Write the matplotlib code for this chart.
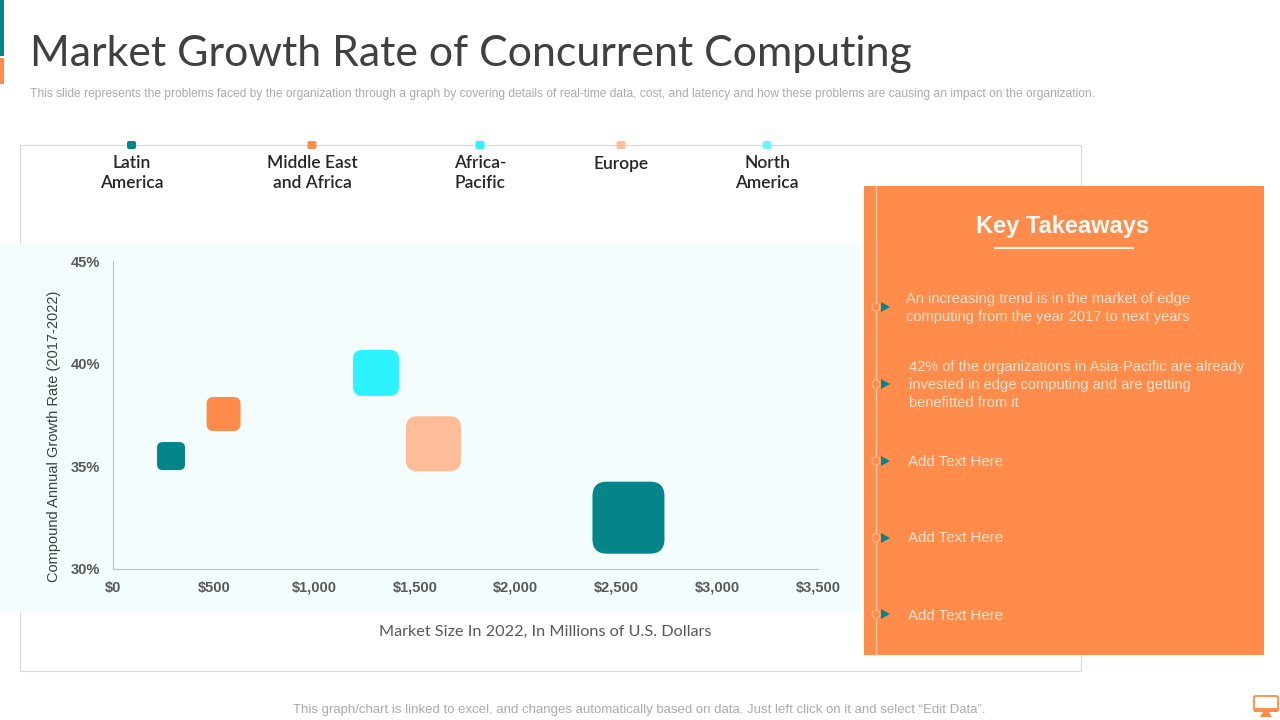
import matplotlib
matplotlib.use("Agg")
import matplotlib.pyplot as plt
from matplotlib.markers import MarkerStyle
from matplotlib.patches import BoxStyle, FancyBboxPatch, Polygon, Rectangle, Circle

regions = ["Latin\nAmerica", "Middle East\nand Africa", "Africa-\nPacific", "Europe", "North\nAmerica"]
legend_colors = ["#03858A", "#FF8C4A", "#2CF3FF", "#FFBC98", "#6FF4FC"]

market_size = [288, 549, 1306, 1591, 2559]
growth_rate = [35.5, 37.55, 39.55, 36.1, 32.5]
bubble_size = [28, 34, 46, 55, 72]
bubble_colors = ["#03858A", "#FF8C4A", "#2CF3FF", "#FFBC98", "#03858A"]

x_ticks = [0, 500, 1000, 1500, 2000, 2500, 3000, 3500]
y_ticks = [30, 35, 40, 45]

takeaways = [
    "An increasing trend is in the market of edge\ncomputing from the year 2017 to next years",
    "42% of the organizations in Asia-Pacific are already\ninvested in edge computing and are getting\nbenefitted from it",
    "Add Text Here",
    "Add Text Here",
    "Add Text Here",
]

ORANGE = "#FF8C4A"
TEAL = "#03858A"
W, H = 1280, 720

fig = plt.figure(figsize=(12.8, 7.2), dpi=100, facecolor="white")

# full slide canvas in pixel coordinates
bg = fig.add_axes([0, 0, 1, 1], zorder=0)
bg.set_xlim(0, W)
bg.set_ylim(H, 0)
bg.axis("off")

bg.add_patch(Rectangle((20, 145), 1060.5, 526, fc="white", ec="#D9D9D9", lw=0.8))
bg.add_patch(Rectangle((0, 244), 864, 368, fc="#F3FDFD", ec="none"))
bg.add_patch(Rectangle((0, 0), 4, 56, fc=TEAL, ec="none"))
bg.add_patch(Rectangle((0, 58), 4, 26, fc=ORANGE, ec="none"))

bg.text(30, 54, "Market Growth Rate of Concurrent Computing", fontsize=30.85, family="Lato",
        weight="normal", color="#404040", va="center", ha="left")
bg.text(30, 94, "This slide represents the problems faced by the organization through a graph by covering "
        "details of real-time data, cost, and latency and how these problems are causing an impact on the organization.",
        fontsize=8.65, family="Liberation Sans", color="#ABABAB", va="center", ha="left")

legend_x = [131.5, 312, 480, 621, 767]
for lx, name, col in zip(legend_x, regions, legend_colors):
    bg.add_patch(FancyBboxPatch((lx - 4.5, 141), 9, 8, boxstyle="round,pad=0,rounding_size=2",
                                fc=col, ec="none"))
    bg.text(lx, 155.5, name, fontsize=12.5, family="Lato", weight="semibold", color="#262626",
            va="top", ha="center", linespacing=1.25)

bg.text(545, 632, "Market Size In 2022, In Millions of U.S. Dollars", fontsize=11.7, family="Lato",
        color="#595959", va="center", ha="center")
bg.text(639.5, 710.5, "This graph/chart is linked to excel, and changes automatically based on data. "
        "Just left click on it and select \u201cEdit Data\u201d.", fontsize=9.5, family="Liberation Sans",
        color="#ABABAB", va="center", ha="center")

# orange takeaways panel
bg.add_patch(Rectangle((864, 186), 400, 469, fc=ORANGE, ec="none", zorder=3))
bg.plot([876, 876], [186, 655], color="#FFC9A6", lw=1, zorder=4)
bg.text(1063, 226.5, "Key Takeaways", fontsize=17, family="Liberation Sans", weight="bold",
        color="#FFFAF5", va="center", ha="center", zorder=5)
bg.plot([995, 1133], [247.5, 247.5], color="#FFF4EA", lw=1.5, zorder=5)

text_x = [906.5, 909, 908.5, 908.5, 908.5]
text_y = [308, 385, 461.5, 537.5, 615.5]
text_size = [10.5, 10.5, 10.8, 10.8, 10.8]
marker_y = [307, 384, 461, 538, 614]
for tx, ty, fs, my, s in zip(text_x, text_y, text_size, marker_y, takeaways):
    bg.text(tx, ty, s, fontsize=fs, family="Liberation Sans", color="#FFE3CF", va="center", ha="left",
            linespacing=1.36, zorder=5)
    bg.add_patch(Circle((876, my), 4, fc=ORANGE, ec="#FFB184", lw=1, zorder=5))
    bg.add_patch(Polygon([(881, my - 5), (881, my + 5), (890, my)], fc=TEAL, ec="none", zorder=5))

# monitor icon bottom right
bg.add_patch(FancyBboxPatch((1254, 696), 24, 15, boxstyle="round,pad=0,rounding_size=1.5",
                            fc="white", ec=ORANGE, lw=1.3))
bg.add_patch(Rectangle((1254, 708), 24, 4, fc=ORANGE, ec="none"))
bg.add_patch(Polygon([(1263, 712), (1269, 712), (1272, 717), (1260, 717)], fc=ORANGE, ec="none"))

# bubble chart
ax = fig.add_axes([113 / W, 1 - 569 / H, 705 / W, 308 / H], zorder=2)
ax.patch.set_alpha(0)
ax.set_xlim(0, 3500)
ax.set_ylim(30, 45)

rounded = BoxStyle("Round", pad=0, rounding_size=0.2)(-0.5, -0.5, 1, 1, 1)
px = 72 / fig.dpi
ax.scatter(market_size, growth_rate, s=[(b * px) ** 2 for b in bubble_size], c=bubble_colors,
           marker=MarkerStyle(rounded), linewidths=0, clip_on=False)

ax.set_xticks(x_ticks)
ax.set_xticklabels([f"${v:,}" for v in x_ticks])
ax.set_yticks(y_ticks)
ax.set_yticklabels([f"{v}%" for v in y_ticks])
ax.tick_params(length=0, labelcolor="#595959", labelsize=10.5)
ax.tick_params(axis="x", pad=8.5)
ax.tick_params(axis="y", pad=9.5)
for lab in ax.get_xticklabels() + ax.get_yticklabels():
    lab.set_family("Liberation Sans")
    lab.set_weight("bold")
ax.spines["top"].set_visible(False)
ax.spines["right"].set_visible(False)
ax.spines["left"].set_color("#BFBFBF")
ax.spines["bottom"].set_color("#BFBFBF")
ax.set_ylabel("Compound Annual Growth Rate (2017-2022)", family="Liberation Sans", fontsize=10.5,
              color="#404040")
ax.yaxis.set_label_coords((61 - 113) / 705, 0.43)

fig.savefig("out.png", dpi=100)
